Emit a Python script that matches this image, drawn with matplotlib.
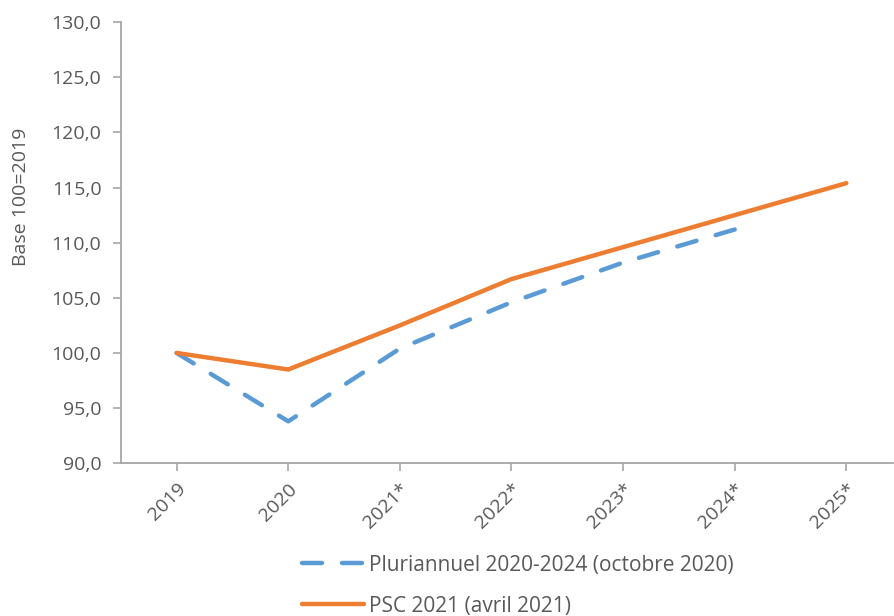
import matplotlib.pyplot as plt
from matplotlib.ticker import FuncFormatter

plt.rcParams['font.family'] = ['Open Sans', 'DejaVu Sans']

years = ['2019', '2020', '2021*', '2022*', '2023*', '2024*', '2025*']
pluriannuel = [100.0, 93.8, 100.4, 104.6, 108.2, 111.2]
psc = [100.0, 98.5, 102.5, 106.7, 109.6, 112.5, 115.4]

grey = '#595959'
axis_grey = '#a6a6a6'

fig = plt.figure(figsize=(8.95, 6.16), dpi=100)
ax = fig.add_axes([0.135, 0.248, 0.863, 0.716])

x = list(range(len(years)))
ax.plot(x[:len(pluriannuel)], pluriannuel, color='#5b9bd5', lw=3.2,
        dashes=(4.5, 4.5), dash_capstyle='round',
        label='Pluriannuel 2020-2024 (octobre 2020)')
ax.plot(x, psc, color='#ed7d31', lw=3.2, solid_capstyle='round',
        label='PSC 2021 (avril 2021)')

ax.set_xlim(-0.5, 6.42)
ax.set_ylim(90, 130)
ax.set_yticks(range(90, 131, 5))
ax.yaxis.set_major_formatter(FuncFormatter(lambda v, p: f'{v:.1f}'.replace('.', ',')))
ax.set_xticks(x)
ax.set_xticklabels(years, rotation=45, ha='right', rotation_mode='anchor')

for s in ['top', 'right']:
    ax.spines[s].set_visible(False)
for s in ['left', 'bottom']:
    ax.spines[s].set_color(axis_grey)
    ax.spines[s].set_linewidth(1.3)
ax.tick_params(colors=axis_grey, labelcolor=grey, labelsize=14, length=6, width=1.2)
ax.tick_params(axis='x', pad=6)
ax.tick_params(axis='y', pad=8)
ax.set_ylabel('Base 100=2019', color=grey, fontsize=14)
ax.yaxis.set_label_coords(-0.118, 0.605)

fig.legend(loc='upper left', bbox_to_anchor=(0.328, 0.113), frameon=False,
           fontsize=15, handlelength=3.0, handletextpad=0.2, labelspacing=0.95,
           labelcolor=grey, borderaxespad=0)

fig.savefig('out.png', dpi=100)
